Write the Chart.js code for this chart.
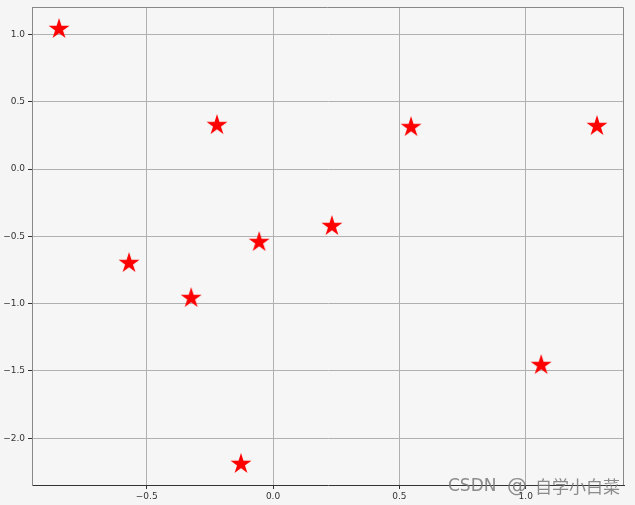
<!DOCTYPE html>
<html>
<head>
<meta charset="utf-8">
<script src="https://cdn.jsdelivr.net/npm/chart.js@4.4.0/dist/chart.umd.min.js"></script>
<style>
    html, body { margin: 0; padding: 0; background: #f5f5f5; }
    #wrap { width: 635px; height: 505px; position: relative; }
</style>
</head>
<body>
<div id="wrap"><canvas id="scatterChart"></canvas></div>
<script>
// Point values
const xValues = [-0.847, -0.222, 0.546, 1.282, 0.233, -0.055, -0.570, -0.324, 1.061, -0.127];
const yValues = [1.048, 0.334, 0.319, 0.327, -0.416, -0.535, -0.691, -0.951, -1.449, -2.184];
const xTicks = [-0.5, 0.0, 0.5, 1.0];
const yTicks = [-2.0, -1.5, -1.0, -0.5, 0.0, 0.5, 1.0];

// Filled five-pointed star marker
function makeStar(size, color) {
    const c = document.createElement('canvas');
    c.width = size;
    c.height = size;
    const g = c.getContext('2d');
    const cx = size / 2, cy = size / 2 + size * 0.05;
    const outer = size / 2, inner = outer * 0.38;
    g.beginPath();
    for (let i = 0; i < 10; i++) {
        const r = i % 2 === 0 ? outer : inner;
        const a = -Math.PI / 2 + i * Math.PI / 5;
        const px = cx + r * Math.cos(a), py = cy + r * Math.sin(a);
        if (i === 0) g.moveTo(px, py); else g.lineTo(px, py);
    }
    g.closePath();
    g.fillStyle = color;
    g.fill();
    return c;
}

const fmt = v => {
    const s = Math.abs(v).toFixed(1);
    return v < 0 ? '\u2212' + s : s;
};

const backgroundPlugin = {
    id: 'background',
    beforeDraw(chart) {
        const { ctx, chartArea: a } = chart;
        ctx.save();
        ctx.fillStyle = '#f5f5f5';
        ctx.fillRect(0, 0, chart.width, chart.height);
        ctx.fillStyle = '#f6f6f6';
        ctx.fillRect(a.left, a.top, a.right - a.left, a.bottom - a.top);
        ctx.restore();
    },
    afterDraw(chart) {
        const { ctx, chartArea: a } = chart;
        ctx.save();
        ctx.strokeStyle = '#888';
        ctx.lineWidth = 1;
        ctx.beginPath();
        ctx.moveTo(a.left, a.top + 0.5);
        ctx.lineTo(a.right - 0.5, a.top + 0.5);
        ctx.lineTo(a.right - 0.5, a.bottom);
        ctx.stroke();
        // watermark
        ctx.fillStyle = 'rgba(120, 120, 120, 0.85)';
        ctx.textBaseline = 'middle';
        ctx.font = '17px "DejaVu Sans", sans-serif';
        ctx.fillText('CSDN', 448, 487);
        ctx.font = '20px "DejaVu Sans", sans-serif';
        ctx.fillText('@', 507, 487);
        ctx.font = '17px "Noto Sans CJK SC", sans-serif';
        ctx.fillText('自学小白菜', 535, 487);
        ctx.restore();
    }
};

new Chart(document.getElementById('scatterChart'), {
    type: 'scatter',
    data: {
        datasets: [{
            data: xValues.map((x, i) => ({ x: x, y: yValues[i] })),
            pointStyle: makeStar(22, '#ff0000'),
            pointRadius: 11,
            pointHoverRadius: 11
        }]
    },
    options: {
        responsive: true,
        maintainAspectRatio: false,
        animation: false,
        layout: { autoPadding: false, padding: { left: 0, right: 11, top: 7, bottom: 0 } },
        plugins: {
            legend: { display: false },
            tooltip: { enabled: false }
        },
        scales: {
            x: {
                type: 'linear',
                min: -0.954,
                max: 1.389,
                afterBuildTicks: scale => { scale.ticks = xTicks.map(v => ({ value: v })); },
                afterFit: scale => {
                    scale.height = 20;
                    scale.paddingLeft = 0;
                    scale.paddingRight = 0;
                },
                ticks: {
                    color: '#333',
                    font: { family: 'DejaVu Sans', size: 9 },
                    padding: 2,
                    maxRotation: 0,
                    callback: v => fmt(v)
                },
                grid: { color: '#b0b0b0', tickLength: 4, tickColor: '#333' },
                border: { color: '#333' }
            },
            y: {
                type: 'linear',
                min: -2.348,
                max: 1.204,
                afterBuildTicks: scale => { scale.ticks = yTicks.map(v => ({ value: v })); },
                afterFit: scale => {
                    scale.width = 32;
                    scale.paddingTop = 0;
                    scale.paddingBottom = 0;
                },
                ticks: {
                    color: '#333',
                    font: { family: 'DejaVu Sans', size: 9 },
                    padding: 3,
                    callback: v => fmt(v)
                },
                grid: { color: '#b0b0b0', tickLength: 4, tickColor: '#333' },
                border: { color: '#888' }
            }
        }
    },
    plugins: [backgroundPlugin]
});
</script>
</body>
</html>
